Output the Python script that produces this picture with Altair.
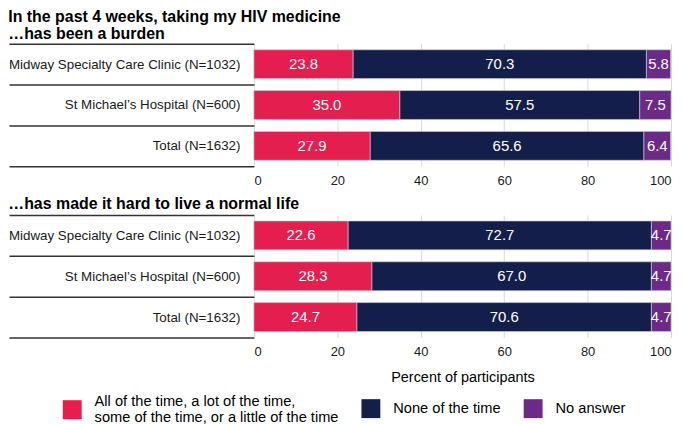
import altair as alt
import pandas as pd

groups = ["Midway Specialty Care Clinic (N=1032)", "St Michael’s Hospital (N=600)", "Total (N=1632)"]
responses = [
    "All of the time, a lot of the time, some of the time, or a little of the time",
    "None of the time",
    "No answer",
]
legend_first_lines = ["All of the time, a lot of the time,", "some of the time, or a little of the time"]
colors = ["#E41E4E", "#141E4A", "#6B2A88"]

title_top = ["In the past 4 weeks, taking my HIV medicine", "…has been a burden"]
title_bottom = "…has made it hard to live a normal life"
x_title = "Percent of participants"
x_ticks = [0, 20, 40, 60, 80, 100]

burden_some = [23.8, 35.0, 27.9]
burden_none = [70.3, 57.5, 65.6]
burden_na = [5.8, 7.5, 6.4]

normal_some = [22.6, 28.3, 24.7]
normal_none = [72.7, 67.0, 70.6]
normal_na = [4.7, 4.7, 4.7]

FONT = "Liberation Sans"

# legend swatch for the two-line entry is drawn centred between its two text lines
SHIFTED_SQUARE = "M-1,-0.16H1V1.84H-1Z"
legend_shapes = [SHIFTED_SQUARE, "square", "square"]


def make_df(series):
    rows = []
    for ri, vals in enumerate(series):
        for gi, g in enumerate(groups):
            rows.append({"group": g, "response": responses[ri], "order": ri, "value": vals[gi]})
    return pd.DataFrame(rows)


legend_expr = "datum.label == '%s' ? ['%s', '%s'] : datum.label" % (
    responses[0], legend_first_lines[0], legend_first_lines[1])


def make_legend():
    return alt.Legend(
        orient="none", legendX=-192, legendY=350, direction="horizontal", title=None,
        symbolSize=361, symbolStrokeWidth=0, symbolOpacity=1,
        labelFontSize=14.7, labelFont=FONT, labelColor="black", labelExpr=legend_expr,
        columnPadding=23, labelOffset=13, labelLimit=400,
    )


def panel(df, title, axis_title, title_offset, line_height):
    base = alt.Chart(df)
    y_axis = alt.Axis(
        tickBand="extent", tickSize=246, tickWidth=1.5, tickColor="#333333",
        domain=False, grid=False, labelPadding=-232, labelFontSize=13.4,
        labelFont=FONT, labelColor="#1a1a1a", labelLimit=300,
    )
    y = alt.Y("group:N", sort=groups, title=None,
              scale=alt.Scale(paddingInner=0, paddingOuter=0), axis=y_axis)
    x_axis = alt.Axis(
        values=x_ticks, grid=True, gridColor="#d9d9d9", gridWidth=1, ticks=False,
        domain=False, labelFontSize=13, labelFont=FONT, labelColor="#1a1a1a",
        labelPadding=8, title=axis_title, titleFont=FONT, titleFontSize=14.5,
        titleFontWeight="normal", titleColor="black", titlePadding=12,
    )
    color = alt.Color("response:N", scale=alt.Scale(domain=responses, range=colors), legend=make_legend())
    bars = base.mark_bar(size=29, stroke="#cfcfdc", strokeWidth=0.6).encode(
        x=alt.X("value:Q", stack="zero", scale=alt.Scale(domain=[0, 100], nice=False), axis=x_axis),
        y=y,
        color=color,
        order=alt.Order("order:Q"),
    )
    text = base.transform_stack(
        stack="value", groupby=["group"], sort=[alt.SortField("order")], as_=["x0", "x1"]
    ).transform_calculate(mid="(datum.x0 + datum.x1) / 2").mark_text(
        color="white", fontSize=15, font=FONT
    ).encode(
        x=alt.X("mid:Q", axis=x_axis),
        y=y,
        text=alt.Text("value:Q", format=".1f"),
    )
    ghost = base.mark_point(filled=True, opacity=0).encode(
        x=alt.X("value:Q", stack=None, axis=x_axis),
        y=y,
        color=color,
        shape=alt.Shape("response:N", scale=alt.Scale(domain=responses, range=legend_shapes),
                        legend=make_legend()),
    )
    return alt.layer(bars, text, ghost).properties(
        width=419, height=123,
        title=alt.TitleParams(title, anchor="start", font=FONT, fontSize=16,
                              fontWeight="bold", color="black", lineHeight=line_height,
                              offset=title_offset),
    )


top = panel(make_df([burden_some, burden_none, burden_na]), title_top, None, -5, 17)
bottom = panel(make_df([normal_some, normal_none, normal_na]), title_bottom, x_title, -4, 17)

chart = alt.vconcat(top, bottom, spacing=9).properties(
    padding={"left": 0, "top": 0, "right": 5, "bottom": 0}
).configure_view(stroke=None)

chart.save("out.html", embed_options={"renderer": "svg", "actions": False})
